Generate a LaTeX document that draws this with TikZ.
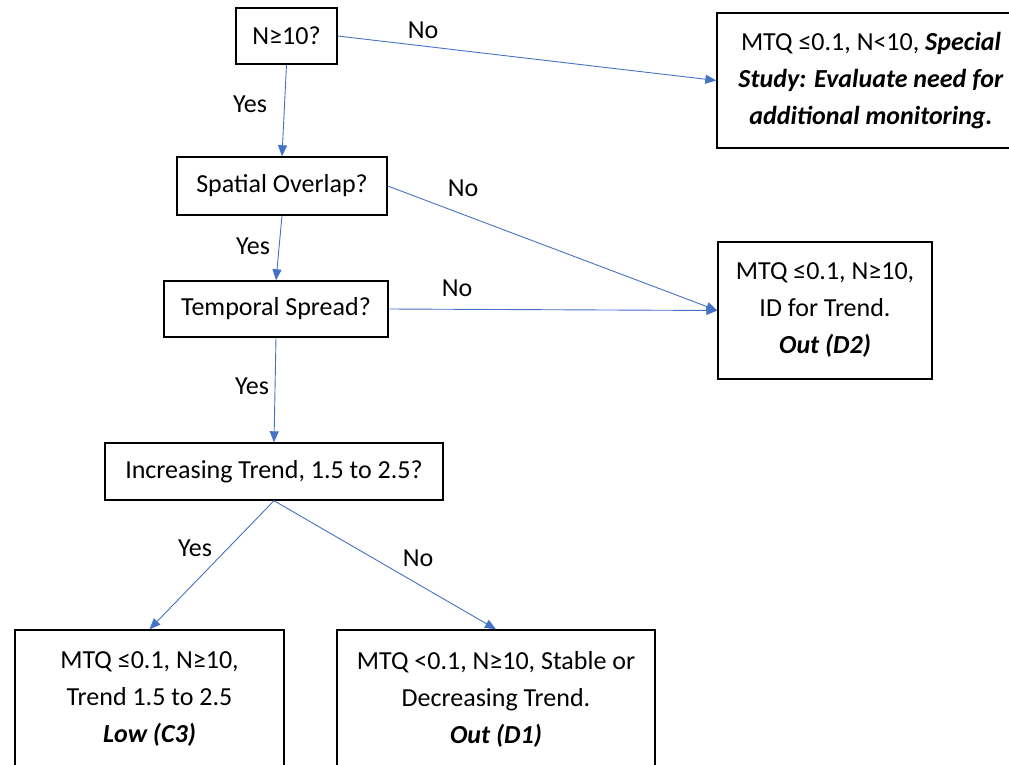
\documentclass[tikz,border=0pt]{standalone}
\usepackage{fontspec}
\setmainfont{Carlito}
\usetikzlibrary{arrows.meta}
\definecolor{arrowblue}{RGB}{68,114,196}

\begin{document}
\begin{tikzpicture}[x=1pt,y=-1pt,
	box/.style={draw=black, line width=1.4pt, inner sep=0pt, align=center, font=\fontsize{26}{37}\selectfont},
	lbl/.style={inner sep=0pt, font=\fontsize{26}{37}\selectfont},
	flow/.style={draw=arrowblue, line width=0.9pt, -{Triangle[length=11pt,width=9pt]}}]
\useasboundingbox (0,0) rectangle (1009,765);
\clip (0,0) rectangle (1009,765);

% questions
\node[box, minimum width=101pt, minimum height=56pt] (qn) at (286.5,36) {N≥10?};
\node[box, minimum width=210pt, minimum height=58pt] (qspace) at (282,186) {Spatial Overlap?};
\node[box, minimum width=224pt, minimum height=56pt] (qtime) at (276,309) {Temporal Spread?};
\node[box, minimum width=338pt, minimum height=57pt] (qtrend) at (274,471.5) {Increasing Trend, 1.5 to 2.5?};

% outcomes
\node[box, minimum width=308pt, minimum height=135pt] (special) at (871,80.5)
	{MTQ ≤0.1, N<10, \textbf{\textit{Special}}\\ \textbf{\textit{Study: Evaluate need for}}\\ \textbf{\textit{additional monitoring.}}};
\node[box, minimum width=214pt, minimum height=137pt] (outdtwo) at (825,310.5)
	{MTQ ≤0.1, N≥10,\\ ID for Trend.\\ \textbf{\textit{Out (D2)}}};
\node[box, minimum width=269pt, minimum height=138pt] (lowcthree) at (149.5,699)
	{MTQ ≤0.1, N≥10,\\ Trend 1.5 to 2.5\\ \textbf{\textit{Low (C3)}}};
\node[box, minimum width=318pt, minimum height=138pt] (outdone) at (496,699)
	{MTQ <0.1, N≥10, Stable or\\ Decreasing Trend.\\ \textbf{\textit{Out (D1)}}};

% arrows
\draw[flow] (qn.east) -- (special.west);
\draw[flow] (qn.south) -- (qspace.north);
\draw[flow] (qspace.east) -- (outdtwo.west);
\draw[flow] (qspace.south) -- (qtime.north);
\draw[flow] (qtime.east) -- (outdtwo.west);
\draw[flow] (qtime.south) -- (qtrend.north);
\draw[flow] (qtrend.south) -- (lowcthree.north);
\draw[flow] (qtrend.south) -- (outdone.north);

% yes / no
\node[lbl] (nonone) at (423,30) {No};
\node[lbl] (yesone) at (250,104) {Yes};
\node[lbl] (nottwo) at (463,188) {No};
\node[lbl] (yestwo) at (253,246) {Yes};
\node[lbl] (nothree) at (457,288) {No};
\node[lbl] (yesthree) at (252,386) {Yes};
\node[lbl] (yesfour) at (195,548) {Yes};
\node[lbl] (nofour) at (418,558) {No};

\end{tikzpicture}
\end{document}
